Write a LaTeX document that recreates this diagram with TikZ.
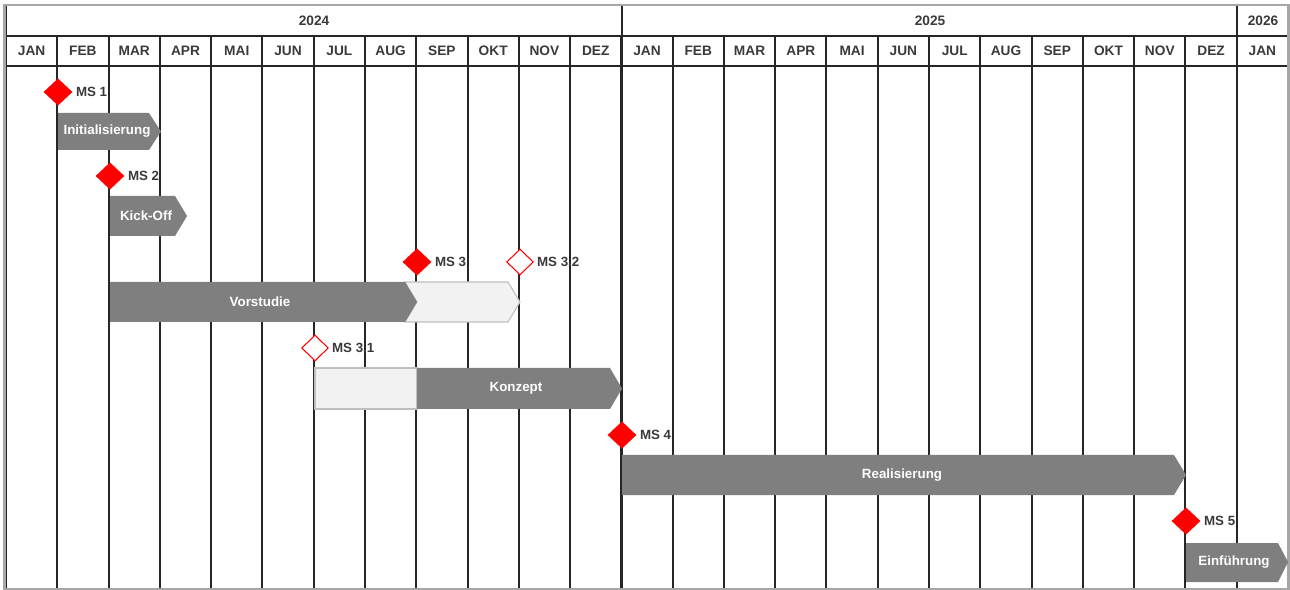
\documentclass[tikz,border=0pt]{standalone}
\usepackage{fontspec}
\setmainfont{Liberation Sans}
\usetikzlibrary{shapes.geometric}

\definecolor{bargray}{HTML}{7F7F7F}
\definecolor{barlight}{HTML}{F2F2F2}
\definecolor{edgelight}{HTML}{BFBFBF}
\definecolor{headtext}{HTML}{3A3A3A}
\definecolor{msred}{HTML}{FF0000}

\tikzset{
    head/.style={font=\fontsize{7.8}{9}\selectfont\bfseries, text=headtext, inner sep=0pt},
    mstone/.style={diamond, fill=msred, inner sep=0pt, minimum width=16.5pt, minimum height=15.6pt},
    msopen/.style={mstone, fill=white, draw=msred, line width=0.6pt, minimum width=15.2pt, minimum height=14.8pt},
    mstext/.style={anchor=west, font=\fontsize{7.6}{9}\selectfont\bfseries, text=headtext, inner sep=1.6pt},
    bartext/.style={font=\fontsize{7.6}{9}\selectfont\bfseries, text=white, inner sep=0pt},
    grid/.style={line width=0.036cm, black!85}
}

\begin{document}
\begin{tikzpicture}[x=0.02cm, y=-0.02cm]
\useasboundingbox (0,0) rectangle (1290,590);

% header and month columns
\draw [grid] (6,36) -- (1288,36);
\draw [grid, line width=0.046cm] (6,66) -- (1288,66);
\foreach \i in {1,...,24} {
    \pgfmathtruncatemacro{\xm}{round(6+51.28*\i)}
    \draw [grid] (\xm,36) -- (\xm,590);
}
\draw [grid, line width=0.046cm] (622,6) -- (622,590);
\draw [grid, line width=0.046cm] (1237,6) -- (1237,590);
\draw [grid] (6,6) -- (6,590);
\draw [gray!70, line width=1.4pt] (4.5,4.8) rectangle (1288.6,589);

\node [head] (y2024) at (314,21) {2024};
\node [head] (y2025) at (930,21) {2025};
\node [head] (y2026) at (1263,21) {2026};
\foreach \m [count=\i from 0] in {JAN,FEB,MAR,APR,MAI,JUN,JUL,AUG,SEP,OKT,NOV,DEZ,
                                   JAN,FEB,MAR,APR,MAI,JUN,JUL,AUG,SEP,OKT,NOV,DEZ,JAN}
    \node [head] (m\i) at (6+51.28*\i+25.64,51) {\m};

% bars
\fill [bargray] (58,113) -- (149,113) -- (161,131.5) -- (149,150) -- (58,150) -- cycle;
\node [bartext] (init) at (107,131.5) {Initialisierung};

\fill [bargray] (110,196) -- (175,196) -- (187,216) -- (175,236) -- (110,236) -- cycle;
\node [bartext] (kick) at (146,216) {Kick-Off};

\filldraw [fill=barlight, draw=edgelight, line width=0.6pt]
    (405,282) -- (508,282) -- (520,302) -- (508,322) -- (405,322) -- (417,302) -- cycle;
\fill [bargray] (110,282) -- (405,282) -- (417,302) -- (405,322) -- (110,322) -- cycle;
\node [bartext] (vor) at (260,302) {Vorstudie};

\filldraw [fill=barlight, draw=edgelight, line width=0.6pt] (315,368) rectangle (417,409);
\fill [bargray] (417,368) -- (610,368) -- (622,388.5) -- (610,409) -- (417,409) -- cycle;
\node [bartext] (konz) at (516,388.5) {Konzept};

\fill [bargray] (622,455) -- (1174,455) -- (1186,475) -- (1174,495) -- (622,495) -- cycle;
\node [bartext] (real) at (902,475) {Realisierung};

\fill [bargray] (1186,543) -- (1278,543) -- (1288,562) -- (1278,582) -- (1186,582) -- cycle;
\node [bartext] (einf) at (1234,562) {Einführung};

% milestones
\node [mstone] (ms1) at (58,92) {};
\node [mstext] at (ms1.east) {MS 1};
\node [mstone] (ms2) at (110,176) {};
\node [mstext] at (ms2.east) {MS 2};
\node [mstone] (ms3) at (417,262) {};
\node [mstext] at (ms3.east) {MS 3};
\node [msopen] (ms32) at (520,262) {};
\node [mstext] at (ms32.east) {MS 3.2};
\node [msopen] (ms31) at (315,348) {};
\node [mstext] at (ms31.east) {MS 3.1};
\node [mstone] (ms4) at (622,435) {};
\node [mstext] at (ms4.east) {MS 4};
\node [mstone] (ms5) at (1186,521) {};
\node [mstext] at (ms5.east) {MS 5};

\end{tikzpicture}
\end{document}
